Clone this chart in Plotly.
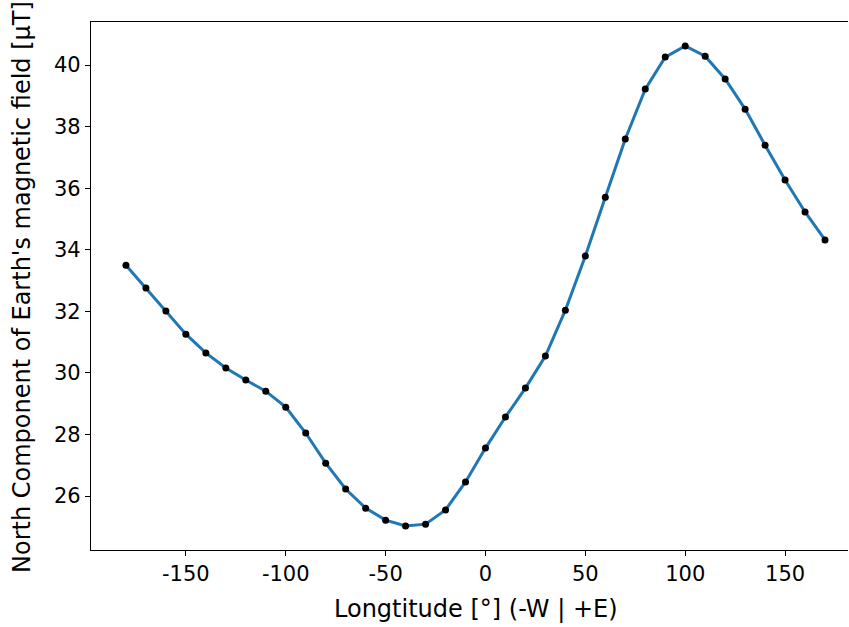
import plotly.graph_objects as go

longitude = list(range(-180, 180, 10))
north_field = [33.50, 32.76, 32.01, 31.26, 30.65, 30.16, 29.77, 29.41, 28.89, 28.05,
               27.07, 26.23, 25.61, 25.22, 25.03, 25.09, 25.55, 26.46, 27.56, 28.57,
               29.51, 30.55, 32.04, 33.80, 35.71, 37.60, 39.22, 40.26, 40.62, 40.29,
               39.55, 38.57, 37.40, 36.27, 35.23, 34.32]
x_ticks = [-150, -100, -50, 0, 50, 100, 150]
y_ticks = [26, 28, 30, 32, 34, 36, 38, 40]

FONT = "DejaVu Sans, sans-serif"

fig = go.Figure()
fig.add_trace(go.Scatter(
    x=longitude, y=north_field, mode="lines+markers",
    line=dict(color="#1f77b4", width=3),
    marker=dict(color="black", size=7),
    showlegend=False,
))

axis_common = dict(
    showgrid=False, zeroline=False, showline=True, linecolor="black", linewidth=1.2,
    ticks="outside", ticklen=5, tickwidth=1.2, tickcolor="black",
    tickfont=dict(family=FONT, size=21, color="black"),
)
fig.update_xaxes(range=[-197.5, 181.5], tickvals=x_ticks,
                 ticktext=[str(v) for v in x_ticks], mirror=True, **axis_common)
fig.update_yaxes(range=[24.25, 41.4], tickvals=y_ticks,
                 ticktext=[str(v) for v in y_ticks], mirror=False, **axis_common)

fig.update_layout(
    width=849, height=627,
    margin=dict(l=91, r=1, t=22, b=77),
    plot_bgcolor="white", paper_bgcolor="white",
    font=dict(family=FONT, color="black"),
    annotations=[
        dict(text="Longtitude [°] (-W | +E)", xref="paper", yref="paper",
             x=(476 - 91) / 757, y=-(609 - 550) / 528, xanchor="center", yanchor="middle",
             showarrow=False, font=dict(family=FONT, size=24, color="black")),
        dict(text="North Component of Earth's magnetic field [μT]", xref="paper", yref="paper",
             x=-(91 - 22) / 757, y=(550 - 287) / 528, xanchor="center", yanchor="middle",
             textangle=-90, showarrow=False, font=dict(family=FONT, size=24, color="black")),
    ],
)

fig.write_html("out.html")
